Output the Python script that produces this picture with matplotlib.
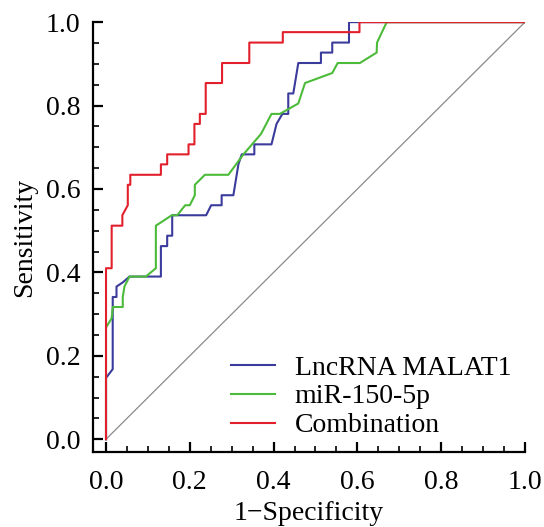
import matplotlib.pyplot as plt
from matplotlib.ticker import MultipleLocator

plt.rcParams['font.family'] = ['Liberation Serif', 'DejaVu Serif']

# ROC curve points (1 - specificity, sensitivity)
malat1_fpr = [0, 0, 0.016, 0.016, 0.025, 0.025, 0.040, 0.056, 0.131, 0.131, 0.146, 0.146,
              0.158, 0.158, 0.239, 0.251, 0.276, 0.276, 0.304, 0.316, 0.324, 0.354, 0.354,
              0.395, 0.407, 0.421, 0.435, 0.435, 0.447, 0.459, 0.513, 0.513, 0.540, 0.540,
              0.580, 0.580, 1.0]
malat1_tpr = [0, 0.147, 0.168, 0.341, 0.341, 0.366, 0.376, 0.390, 0.390, 0.463, 0.463, 0.488,
              0.488, 0.537, 0.537, 0.561, 0.561, 0.585, 0.585, 0.659, 0.683, 0.683, 0.707,
              0.707, 0.756, 0.780, 0.780, 0.829, 0.829, 0.902, 0.902, 0.927, 0.927, 0.951,
              0.951, 1.0, 1.0]

mir_fpr = [0, 0, 0.0135, 0.016, 0.040, 0.040, 0.044, 0.056, 0.095, 0.119, 0.119, 0.157,
           0.170, 0.189, 0.200, 0.212, 0.212, 0.236, 0.292, 0.328, 0.370, 0.395, 0.415,
           0.459, 0.475, 0.540, 0.553, 0.606, 0.646, 0.647, 0.670, 1.0]
mir_tpr = [0, 0.268, 0.290, 0.317, 0.317, 0.341, 0.366, 0.390, 0.390, 0.410, 0.512, 0.537,
           0.537, 0.561, 0.561, 0.585, 0.610, 0.634, 0.634, 0.683, 0.732, 0.780, 0.780,
           0.805, 0.854, 0.878, 0.902, 0.902, 0.927, 0.951, 1.0, 1.0]

comb_fpr = [0, 0, 0.0135, 0.0135, 0.039, 0.039, 0.052, 0.052, 0.058, 0.058, 0.131, 0.131,
            0.146, 0.146, 0.197, 0.197, 0.211, 0.211, 0.224, 0.224, 0.238, 0.238, 0.277,
            0.277, 0.342, 0.342, 0.422, 0.422, 0.605, 0.605, 1.0]
comb_tpr = [0, 0.410, 0.410, 0.512, 0.512, 0.537, 0.561, 0.610, 0.610, 0.634, 0.634, 0.659,
            0.659, 0.683, 0.683, 0.707, 0.707, 0.756, 0.756, 0.780, 0.780, 0.854, 0.854,
            0.902, 0.902, 0.951, 0.951, 0.976, 0.976, 1.0, 1.0]

labels = ['LncRNA MALAT1', 'miR-150-5p', 'Combination']
colors = ['#3b3b9c', '#4cbb3a', '#e2202c']

fig = plt.figure(figsize=(5.44, 5.27), dpi=100)
ax = fig.add_axes([0.171, 0.142, 0.794, 0.816])

ax.plot([0, 1], [0, 1], color='#8a8a8a', lw=0.9)
ax.plot(malat1_fpr, malat1_tpr, color=colors[0], lw=1.5, label=labels[0])
ax.plot(mir_fpr, mir_tpr, color=colors[1], lw=1.5, label=labels[1])
ax.plot(comb_fpr, comb_tpr, color=colors[2], lw=1.5, label=labels[2])

ax.set_xlim(-0.031, 1.0)
ax.set_ylim(-0.031, 1.0)
ax.spines['top'].set_visible(False)
ax.spines['right'].set_visible(False)
for s in ['left', 'bottom']:
    ax.spines[s].set_linewidth(1.6)

ax.xaxis.set_minor_locator(MultipleLocator(0.05))
ax.yaxis.set_minor_locator(MultipleLocator(0.05))
ax.set_xticks([0, 0.2, 0.4, 0.6, 0.8, 1.0])
ax.set_xticklabels(['0.0', '0.2', '0.4', '0.6', '0.8', '1.0'])
ax.set_yticks([0, 0.2, 0.4, 0.6, 0.8, 1.0])
ax.set_yticklabels(['0.0', '0.2', '0.4', '0.6', '0.8', '1.0'])
ax.tick_params(which='major', direction='in', length=7, width=1.6, labelsize=20, pad=9)
ax.tick_params(axis='x', which='major', pad=13)
ax.tick_params(which='minor', direction='in', length=4, width=1.2)

ax.set_xlabel('1\u2212Specificity', fontsize=20, labelpad=4)
ax.set_ylabel('Sensitivity', fontsize=20, labelpad=6)

ax.legend(loc='lower right', frameon=False, fontsize=20, handlelength=1.6,
          handletextpad=0.7, labelspacing=0.12, borderaxespad=0.1,
          bbox_to_anchor=(1.0, 0.0))

fig.savefig('out.png', dpi=100)
